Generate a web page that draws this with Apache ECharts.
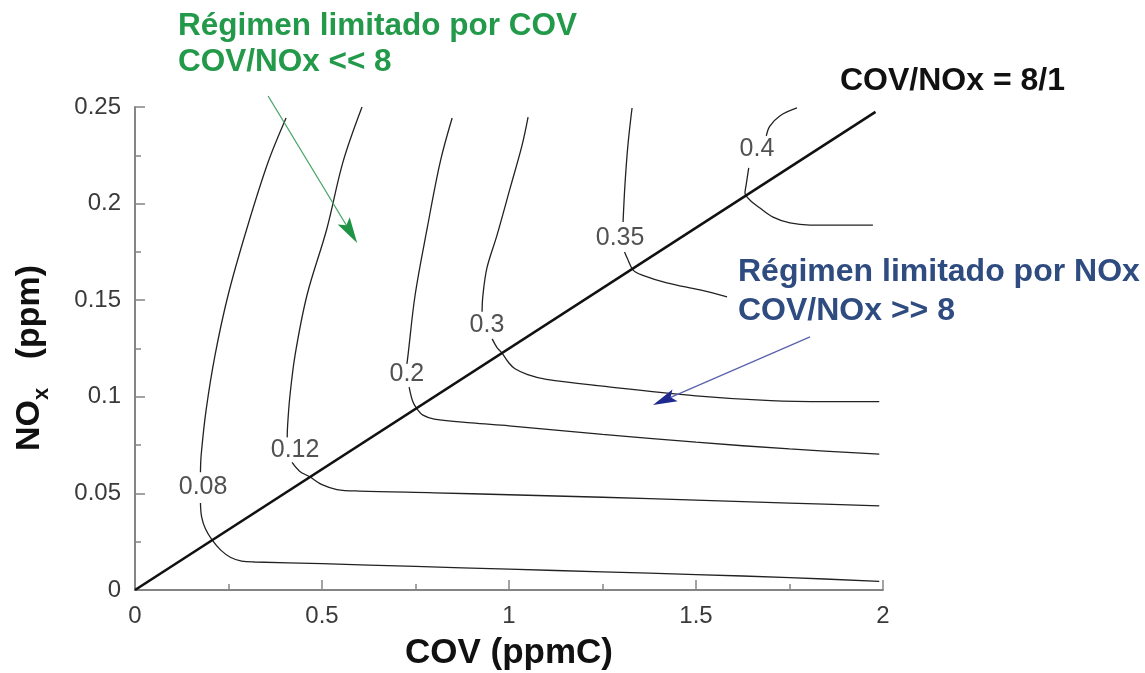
<!DOCTYPE html>
<html>
<head>
<meta charset="utf-8">
<script src="https://cdn.jsdelivr.net/npm/echarts@6/dist/echarts.min.js"></script>
<style>html,body{margin:0;padding:0;background:#fff;}#chart{width:1145px;height:673px;}</style>
</head>
<body>
<div id="chart"></div>
<script>
// ---- data (COV ppmC, NOx ppm) ----
const xTicks = [0, 0.5, 1, 1.5, 2];
const yTicks = [0, 0.05, 0.1, 0.15, 0.2, 0.25];
const ratioLine = [[0, 0], [1.98, 0.2475]]; // COV/NOx = 8/1

const levels = ['0.08', '0.12', '0.2', '0.3', '0.35', '0.4'];
const labelX = [0.182, 0.428, 0.727, 0.941, 1.297, 1.663];
const labelY = [0.053, 0.0725, 0.112, 0.137, 0.182, 0.228];

const c008Upper = [[0.404,0.2443],[0.356,0.2215],[0.299,0.187],[0.249,0.1527],[0.214,0.1216],[0.19,0.093],[0.177,0.07],[0.175,0.061]];
const c008Lower = [[0.175,0.045],[0.178,0.038],[0.188,0.0318],[0.206,0.0259],[0.23,0.0205],[0.256,0.0168],[0.285,0.015],[0.32,0.0145],[0.5,0.0136],[0.75,0.0122],[1.0,0.0108],[1.25,0.0094],[1.5,0.008],[1.75,0.0064],[1.99,0.0045]];
const c012Upper = [[0.607,0.25],[0.556,0.2215],[0.513,0.187],[0.46,0.1527],[0.428,0.1216],[0.414,0.1],[0.408,0.085],[0.407,0.079]];
const c012Lower = [[0.42,0.066],[0.44,0.0615],[0.468,0.0585],[0.5,0.0545],[0.54,0.052],[0.6,0.0512],[0.8,0.0503],[1.0,0.0493],[1.25,0.048],[1.5,0.0465],[1.75,0.045],[1.99,0.0435]];
const c020Upper = [[0.848,0.2443],[0.816,0.2215],[0.781,0.187],[0.749,0.1527],[0.73,0.1216],[0.727,0.117]];
const c020Lower = [[0.733,0.105],[0.742,0.098],[0.753,0.094],[0.77,0.0905],[0.8,0.0885],[0.9,0.0865],[1.0,0.085],[1.25,0.0805],[1.5,0.0765],[1.75,0.073],[1.99,0.0703]];
const c030Upper = [[1.051,0.2448],[1.035,0.2303],[1.003,0.208],[0.968,0.1837],[0.941,0.1667],[0.93,0.152],[0.928,0.144]];
const c030Lower = [[0.955,0.13],[0.968,0.1255],[0.981,0.1227],[1.0,0.1175],[1.016,0.1145],[1.05,0.1115],[1.1,0.109],[1.25,0.1055],[1.5,0.1005],[1.7,0.098],[1.85,0.0975],[1.99,0.0975]];
const c035Upper = [[1.329,0.2495],[1.318,0.2303],[1.31,0.2096],[1.305,0.1905]];
const c035Lower = [[1.309,0.175],[1.316,0.1718],[1.332,0.1656],[1.356,0.163],[1.422,0.159],[1.511,0.1553],[1.583,0.1517]];
const c040Upper = [[1.77,0.2495],[1.725,0.2455],[1.697,0.24],[1.688,0.235]];
const c040Lower = [[1.641,0.2185],[1.634,0.2096],[1.631,0.2055],[1.644,0.2019],[1.671,0.1977],[1.706,0.193],[1.751,0.19],[1.805,0.1889],[1.973,0.1889]];

// annotation arrows (data coordinates: start -> tip)
const arrowVOC = [[0.356, 0.2557], [0.594, 0.1796]];
const arrowNOx = [[1.805, 0.131], [1.385, 0.0958]];

const FONT = 'Liberation Sans, Arial, Helvetica, sans-serif';
const segments = [c008Upper, c008Lower, c012Upper, c012Lower, c020Upper, c020Lower,
                  c030Upper, c030Lower, c035Upper, c035Lower, c040Upper, c040Lower];

const series = segments.map(seg => ({
  type: 'line', data: seg, smooth: 0.35, showSymbol: false, symbol: 'none',
  lineStyle: { color: '#222', width: 1.3 }, silent: true, z: 2
}));

series.push({
  type: 'line', data: ratioLine, showSymbol: false, symbol: 'none', silent: true,
  lineStyle: { color: '#111', width: 2.6 }, z: 3
});

series.push({
  type: 'scatter', silent: true, symbolSize: 2, itemStyle: { color: 'rgba(0,0,0,0)' },
  data: levels.map((t, i) => [labelX[i], labelY[i], t]),
  label: { show: true, position: 'inside', formatter: p => p.data[2],
           fontSize: 25, color: '#262626', fontFamily: FONT },
  z: 4
});

const AX = '#858585';
function mainAxis(extra) {
  return Object.assign({
    type: 'value',
    axisLine: { show: true, lineStyle: { color: AX, width: 2 } },
    axisTick: { show: true, inside: true, length: 10, lineStyle: { color: AX, width: 1.5 } },
    splitLine: { show: false },
    axisLabel: { fontSize: 24, color: '#3a3a3a', margin: 14, fontFamily: FONT }
  }, extra);
}
function minorAxis(extra) {
  return Object.assign({
    type: 'value',
    axisLine: { show: false },
    axisTick: { show: true, inside: true, length: 6, lineStyle: { color: AX, width: 1.5 } },
    splitLine: { show: false },
    axisLabel: { show: false }
  }, extra);
}

const chart = echarts.init(document.getElementById('chart'));
chart.setOption({
  animation: false,
  backgroundColor: '#fff',
  textStyle: { fontFamily: FONT },
  grid: { left: 135, right: 262, top: 107, bottom: 83, containLabel: false, outerBoundsMode: 'none' },
  xAxis: [
    mainAxis({
      min: xTicks[0], max: xTicks[xTicks.length - 1], interval: xTicks[1] - xTicks[0], position: 'bottom',
      name: 'COV (ppmC)', nameLocation: 'middle', nameGap: 46,
      nameTextStyle: { fontSize: 35, fontWeight: 'bold', color: '#111', fontFamily: FONT }
    }),
    minorAxis({ min: xTicks[0], max: xTicks[xTicks.length - 1], interval: (xTicks[1] - xTicks[0]) / 2, position: 'bottom', offset: 0 })
  ],
  yAxis: [
    mainAxis({
      min: yTicks[0], max: yTicks[yTicks.length - 1], interval: yTicks[1] - yTicks[0], position: 'left',
      name: '{a|NO}{s|x}{a|   (ppm)  }', nameLocation: 'middle', nameGap: 88, nameRotate: 90,
      nameTextStyle: {
        color: '#111',
        rich: {
          a: { fontSize: 34, fontWeight: 'bold', color: '#111', fontFamily: FONT },
          s: { fontSize: 22, fontWeight: 'bold', color: '#111', fontFamily: FONT, verticalAlign: 'bottom', padding: [0, 0, -6, 0] }
        }
      }
    }),
    minorAxis({ min: yTicks[0], max: yTicks[yTicks.length - 1], interval: (yTicks[1] - yTicks[0]) / 2, position: 'left', offset: 0 })
  ],
  graphic: [
    { type: 'text', left: 178, top: 8, silent: true,
      style: { text: 'Régimen limitado por COV\nCOV/NOx << 8', fill: '#23994a',
               font: 'bold 31.5px ' + FONT, lineHeight: 36 } },
    { type: 'text', left: 738, top: 253, silent: true,
      style: { text: 'Régimen limitado por NOx\nCOV/NOx >> 8', fill: '#2f4c80',
               font: 'bold 32px ' + FONT, lineHeight: 39 } },
    { type: 'text', left: 840, top: 65, silent: true,
      style: { text: 'COV/NOx = 8/1', fill: '#111', font: 'bold 32px ' + FONT } }
  ],
  series: series
});

// arrows positioned through the chart's own scales
function arrowGraphics(pts, shaftColor, headColor, headLen, headW, id) {
  const s = chart.convertToPixel({ xAxisIndex: 0, yAxisIndex: 0 }, pts[0]);
  const t = chart.convertToPixel({ xAxisIndex: 0, yAxisIndex: 0 }, pts[1]);
  const dx = t[0] - s[0], dy = t[1] - s[1];
  const L = Math.hypot(dx, dy);
  const ux = dx / L, uy = dy / L, nx = -uy, ny = ux;
  const bx = t[0] - ux * headLen, by = t[1] - uy * headLen;
  const notchX = t[0] - ux * headLen * 0.8, notchY = t[1] - uy * headLen * 0.8;
  return [
    { type: 'line', id: id + 's', silent: true, z: 10,
      shape: { x1: s[0], y1: s[1], x2: notchX, y2: notchY },
      style: { stroke: shaftColor, lineWidth: 1.3 } },
    { type: 'polygon', id: id + 'h', silent: true, z: 11,
      shape: { points: [[t[0], t[1]], [bx + nx * headW / 2, by + ny * headW / 2], [notchX, notchY], [bx - nx * headW / 2, by - ny * headW / 2]] },
      style: { fill: headColor } }
  ];
}
chart.setOption({
  graphic: [
    ...arrowGraphics(arrowVOC, '#4aa56a', '#1e9444', 26, 14, 'g'),
    ...arrowGraphics(arrowNOx, '#5a62ad', '#1f2a91', 24, 13, 'b')
  ]
});
</script>
</body>
</html>
